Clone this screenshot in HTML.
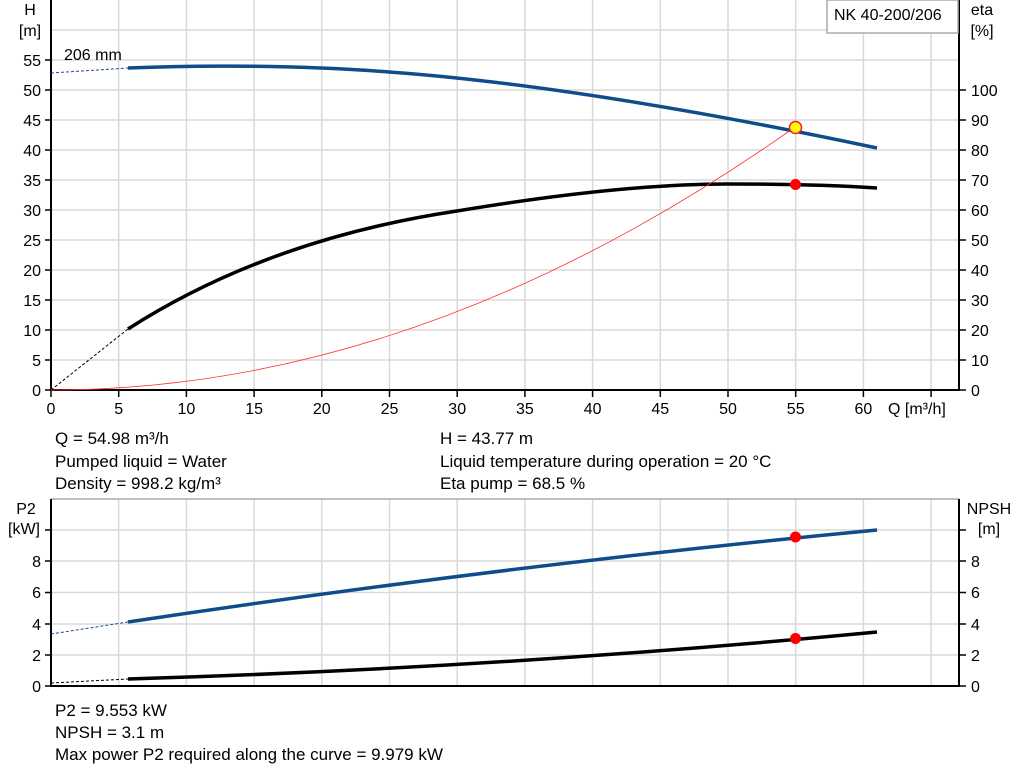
<!DOCTYPE html>
<html><head><style>
body{margin:0;background:#fff}
svg{display:block;font-family:"Liberation Sans",Arial,sans-serif}
</style></head><body>
<svg width="1024" height="781" viewBox="0 0 1024 781" xmlns="http://www.w3.org/2000/svg">
<g stroke="#d9d9d9" stroke-width="1.5">
<line x1="118.7" y1="0" x2="118.7" y2="390"/><line x1="186.4" y1="0" x2="186.4" y2="390"/><line x1="254.1" y1="0" x2="254.1" y2="390"/><line x1="321.8" y1="0" x2="321.8" y2="390"/><line x1="389.5" y1="0" x2="389.5" y2="390"/><line x1="457.2" y1="0" x2="457.2" y2="390"/><line x1="524.9" y1="0" x2="524.9" y2="390"/><line x1="592.6" y1="0" x2="592.6" y2="390"/><line x1="660.3" y1="0" x2="660.3" y2="390"/><line x1="728" y1="0" x2="728" y2="390"/><line x1="795.7" y1="0" x2="795.7" y2="390"/><line x1="863.4" y1="0" x2="863.4" y2="390"/><line x1="931.1" y1="0" x2="931.1" y2="390"/>
<line x1="51" y1="360" x2="959" y2="360"/><line x1="51" y1="330" x2="959" y2="330"/><line x1="51" y1="300" x2="959" y2="300"/><line x1="51" y1="270" x2="959" y2="270"/><line x1="51" y1="240" x2="959" y2="240"/><line x1="51" y1="210" x2="959" y2="210"/><line x1="51" y1="180" x2="959" y2="180"/><line x1="51" y1="150" x2="959" y2="150"/><line x1="51" y1="120" x2="959" y2="120"/><line x1="51" y1="90" x2="959" y2="90"/><line x1="51" y1="60" x2="959" y2="60"/><line x1="51" y1="30" x2="959" y2="30"/>
<line x1="118.7" y1="499" x2="118.7" y2="686"/><line x1="186.4" y1="499" x2="186.4" y2="686"/><line x1="254.1" y1="499" x2="254.1" y2="686"/><line x1="321.8" y1="499" x2="321.8" y2="686"/><line x1="389.5" y1="499" x2="389.5" y2="686"/><line x1="457.2" y1="499" x2="457.2" y2="686"/><line x1="524.9" y1="499" x2="524.9" y2="686"/><line x1="592.6" y1="499" x2="592.6" y2="686"/><line x1="660.3" y1="499" x2="660.3" y2="686"/><line x1="728" y1="499" x2="728" y2="686"/><line x1="795.7" y1="499" x2="795.7" y2="686"/><line x1="863.4" y1="499" x2="863.4" y2="686"/><line x1="931.1" y1="499" x2="931.1" y2="686"/>
<line x1="51" y1="655" x2="959" y2="655"/><line x1="51" y1="624" x2="959" y2="624"/><line x1="51" y1="592.5" x2="959" y2="592.5"/><line x1="51" y1="561" x2="959" y2="561"/><line x1="51" y1="530" x2="959" y2="530"/>
</g>
<line x1="51" y1="499" x2="959" y2="499" stroke="#aaa" stroke-width="1.5"/>
<g stroke="#000" stroke-width="2" fill="none">
<line x1="51" y1="0" x2="51" y2="391"/><line x1="959" y1="0" x2="959" y2="391"/><line x1="50" y1="390" x2="960" y2="390"/>
<line x1="51" y1="499" x2="51" y2="687"/><line x1="959" y1="499" x2="959" y2="687"/><line x1="50" y1="686" x2="960" y2="686"/>
</g>
<g stroke="#000" stroke-width="1.5">
<path d="M45 390H51M45 360H51M45 330H51M45 300H51M45 270H51M45 240H51M45 210H51M45 180H51M45 150H51M45 120H51M45 90H51M45 60H51"/>
<path d="M959 390H966M959 360H966M959 330H966M959 300H966M959 270H966M959 240H966M959 210H966M959 180H966M959 150H966M959 120H966M959 90H966"/>
<path d="M51 390V397M118.7 390V397M186.4 390V397M254.1 390V397M321.8 390V397M389.5 390V397M457.2 390V397M524.9 390V397M592.6 390V397M660.3 390V397M728 390V397M795.7 390V397M863.4 390V397M931.1 390V397"/>
<path d="M45 686H51M45 655H51M45 624H51M45 592.5H51M45 561H51M45 530H51"/>
<path d="M959 686H966M959 655H966M959 624H966M959 592.5H966M959 561H966M959 530H966"/>
</g>
<g font-size="16" fill="#000" text-anchor="end">
<text x="41" y="396">0</text><text x="41" y="366">5</text><text x="41" y="336">10</text><text x="41" y="306">15</text><text x="41" y="276">20</text><text x="41" y="246">25</text><text x="41" y="216">30</text><text x="41" y="186">35</text><text x="41" y="156">40</text><text x="41" y="126">45</text><text x="41" y="96">50</text><text x="41" y="66">55</text>
<text x="41" y="692">0</text><text x="41" y="661">2</text><text x="41" y="630">4</text><text x="41" y="598">6</text><text x="41" y="567">8</text>
</g>
<g font-size="16" fill="#000" text-anchor="start">
<text x="971" y="396">0</text><text x="971" y="366">10</text><text x="971" y="336">20</text><text x="971" y="306">30</text><text x="971" y="276">40</text><text x="971" y="246">50</text><text x="971" y="216">60</text><text x="971" y="186">70</text><text x="971" y="156">80</text><text x="971" y="126">90</text><text x="971" y="96">100</text>
<text x="971" y="692">0</text><text x="971" y="661">2</text><text x="971" y="630">4</text><text x="971" y="598">6</text><text x="971" y="567">8</text>
</g>
<g font-size="16" fill="#000" text-anchor="middle">
<text x="51" y="414">0</text><text x="118.7" y="414">5</text><text x="186.4" y="414">10</text><text x="254.1" y="414">15</text><text x="321.8" y="414">20</text><text x="389.5" y="414">25</text><text x="457.2" y="414">30</text><text x="524.9" y="414">35</text><text x="592.6" y="414">40</text><text x="660.3" y="414">45</text><text x="728" y="414">50</text><text x="795.7" y="414">55</text><text x="863.4" y="414">60</text>
<text x="30" y="15">H</text><text x="30" y="36">[m]</text>
<text x="982" y="15">eta</text><text x="982" y="36">[%]</text>
<text x="26" y="514">P2</text><text x="24" y="534">[kW]</text>
<text x="989" y="514">NPSH</text><text x="989" y="534">[m]</text>
</g>
<text x="888" y="414" font-size="16">Q [m³/h]</text>
<text x="64" y="60" font-size="16">206 mm</text>
<rect x="827" y="0" width="131" height="33" fill="#fff" stroke="#aaa" stroke-width="1.5"/>
<text x="834" y="20" font-size="16">NK 40-200/206</text>
<path d="M51 73 L128 68" stroke="#1b4e86" stroke-width="1" stroke-dasharray="3,2" fill="none"/>
<path d="M128 68 C200 65 300 65 389 72 C500 80 650 100 877 148" stroke="#0f4c89" stroke-width="3.5" fill="none"/>
<path d="M51 390 L128 329" stroke="#000" stroke-width="1" stroke-dasharray="3,2" fill="none"/>
<path d="M128 329 C220 270 330 230 457 211 C560 194 650 184 727 184 C780 184 830 185 877 188" stroke="#000" stroke-width="3.5" fill="none"/>
<path d="M51 390 Q423 390 795 127" stroke="#ff3030" stroke-width="0.8" fill="none"/>
<path d="M51 634 L128 622" stroke="#1b4e86" stroke-width="1" stroke-dasharray="3,2" fill="none"/>
<path d="M128 622 Q500 566 877 530" stroke="#0f4c89" stroke-width="3.5" fill="none"/>
<path d="M51 683 L128 679" stroke="#000" stroke-width="1" stroke-dasharray="3,2" fill="none"/>
<path d="M128 679 Q500 668 877 632" stroke="#000" stroke-width="3.5" fill="none"/>
<circle cx="795.5" cy="127.5" r="6" fill="#ffff00" stroke="#ff1a1a" stroke-width="1.5"/>
<circle cx="795.5" cy="184.5" r="5.5" fill="#ff0000"/>
<circle cx="795.5" cy="537" r="5.5" fill="#ff0000"/>
<circle cx="795.5" cy="638.5" r="5.5" fill="#ff0000"/>
<g font-size="17" fill="#000">
<text x="55" y="444">Q = 54.98 m³/h</text><text x="55" y="467">Pumped liquid = Water</text><text x="55" y="489">Density = 998.2 kg/m³</text>
<text x="440" y="444">H = 43.77 m</text><text x="440" y="467">Liquid temperature during operation = 20 °C</text><text x="440" y="489">Eta pump = 68.5 %</text>
<text x="55" y="716">P2 = 9.553 kW</text><text x="55" y="738">NPSH = 3.1 m</text><text x="55" y="760">Max power P2 required along the curve = 9.979 kW</text>
</g>
</svg>
</body></html>
